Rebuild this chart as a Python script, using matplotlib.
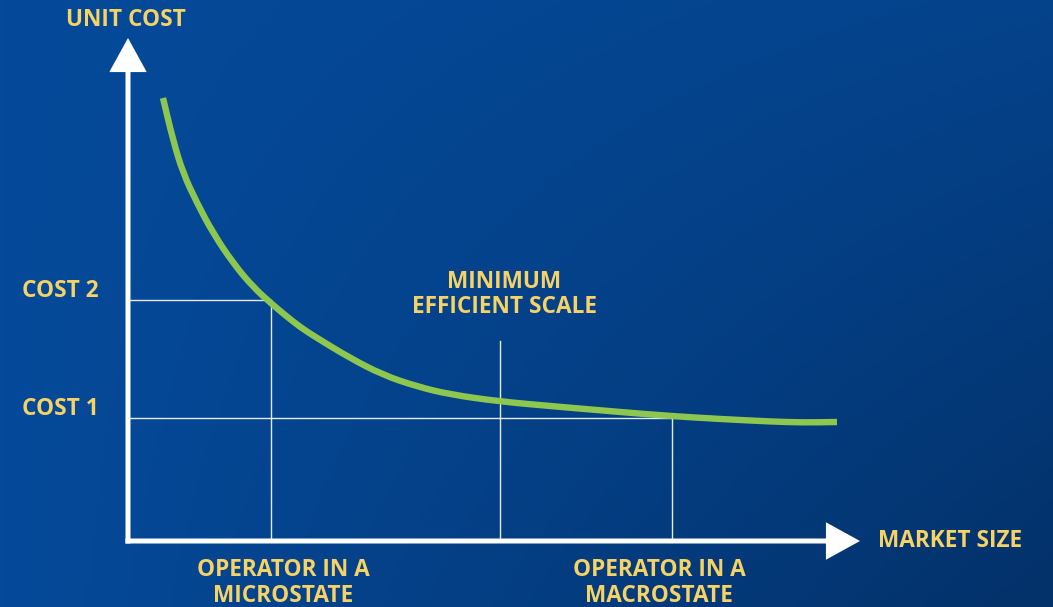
import matplotlib
matplotlib.use("Agg")
import matplotlib.pyplot as plt
import numpy as np
from matplotlib.path import Path
from matplotlib.patches import PathPatch

# market size vs unit cost (arbitrary units)
market_size = [0.35, 0.45, 0.55, 0.69, 0.85, 1.05, 1.25, 1.45, 1.57, 1.72, 1.89,
               2.22, 2.55, 2.89, 3.22, 3.72, 4.22, 4.92, 5.42, 5.92, 6.42, 6.75, 7.09]
unit_cost = [4.43, 4.01, 3.68, 3.38, 3.08, 2.78, 2.54, 2.36, 2.26, 2.14, 2.03,
             1.83, 1.66, 1.545, 1.465, 1.395, 1.35, 1.29, 1.25, 1.22, 1.195, 1.185, 1.19]

cost_levels = [1.23, 2.41]
cost_labels = ["COST 1", "COST 2"]
micro_size = 1.43
macro_size = 5.44
mes_size = 3.72
mes_top = 2.00
x_axis_end = 7.32
y_axis_end = 5.03

YELLOW = "#f7d264"
GREEN = "#8dc74f"
FONT = "Open Sans"


def smooth_path(xs, ys):
    """Quadratic B-spline style path using the read points as control points."""
    pts = np.column_stack([xs, ys])
    verts = [pts[0], (pts[0] + pts[1]) / 2]
    codes = [Path.MOVETO, Path.LINETO]
    for i in range(1, len(pts) - 1):
        verts += [pts[i], (pts[i] + pts[i + 1]) / 2]
        codes += [Path.CURVE3, Path.CURVE3]
    verts.append(pts[-1])
    codes.append(Path.LINETO)
    return Path(verts, codes)


fig = plt.figure(figsize=(10.53, 6.07), dpi=100)
ax = fig.add_axes([0, 0, 1, 1])
xlim = (-1.28, 9.25)
ylim = (-0.66, 5.41)

# background: bright along the left edge, darkening towards bottom-right
gx, gy = np.meshgrid(np.linspace(0, 1, 220), np.linspace(0, 1, 130))
t = np.clip(gx * (0.3 + 0.7 * gy), 0, 1)
c0 = np.array([5, 74, 154]) / 255
c1 = np.array([3, 49, 105]) / 255
img = c0[None, None, :] * (1 - t[..., None]) + c1[None, None, :] * t[..., None]
ax.imshow(img, extent=(xlim[0], xlim[1], ylim[0], ylim[1]), aspect="auto",
          zorder=0, origin="upper")
ax.set_xlim(*xlim)
ax.set_ylim(*ylim)
ax.axis("off")

# guide lines
line_kw = dict(color="white", lw=1.0, alpha=0.9, zorder=2)
ax.plot([0, micro_size], [cost_levels[1]] * 2, **line_kw)
ax.plot([micro_size] * 2, [0, cost_levels[1]], **line_kw)
ax.plot([0, macro_size], [cost_levels[0]] * 2, **line_kw)
ax.plot([macro_size] * 2, [0, cost_levels[0]], **line_kw)
ax.plot([mes_size] * 2, [0, mes_top], **line_kw)

# cost curve
ax.add_patch(PathPatch(smooth_path(market_size, unit_cost), facecolor="none",
                       edgecolor=GREEN, lw=4.6, capstyle="butt", zorder=3))

# axes arrows
arrow_kw = dict(arrowstyle="-|>,head_length=1.0,head_width=0.55", color="white",
                lw=3.6, mutation_scale=19, shrinkA=0, shrinkB=0,
                capstyle="butt", joinstyle="miter")
ax.annotate("", xy=(x_axis_end, 0), xytext=(-0.025, 0), arrowprops=arrow_kw, zorder=4)
ax.annotate("", xy=(0, y_axis_end), xytext=(0, -0.025), arrowprops=arrow_kw, zorder=4)

txt = dict(color=YELLOW, fontsize=16.3, fontweight="bold", family=FONT, linespacing=1.1)
ax.text(-0.02, 5.21, "UNIT COST", ha="center", va="center", **txt)
ax.text(7.5, 0, "MARKET SIZE", ha="left", va="center", **txt)
for lvl, lab in zip(cost_levels, cost_labels):
    ax.text(-0.29, lvl + 0.09, lab, ha="right", va="center", **txt)
ax.text(mes_size + 0.04, 2.465, "MINIMUM\nEFFICIENT SCALE", ha="center", va="center", **txt)
ax.text(micro_size + 0.12, -0.42, "OPERATOR IN A\nMICROSTATE", ha="center", va="center", **txt)
ax.text(macro_size - 0.13, -0.42, "OPERATOR IN A\nMACROSTATE", ha="center", va="center", **txt)

plt.savefig("out.png", dpi=100)
plt.close(fig)
